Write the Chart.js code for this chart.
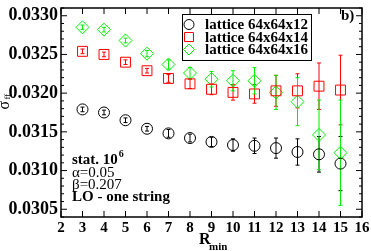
<!DOCTYPE html>
<html>
<head>
<meta charset="utf-8">
<script src="https://cdn.jsdelivr.net/npm/chart.js@4/dist/chart.umd.min.js"></script>
<style>
  html, body { margin: 0; padding: 0; background: #fff; }
  canvas { display: block; }
</style>
</head>
<body>
<canvas id="chart" width="371" height="251"></canvas>
<script>
// R_min values and sigma_ff for the three lattices
const rmin = [3, 4, 5, 6, 7, 8, 9, 10, 11, 12, 13, 14, 15];

const sig12 = [0.03179, 0.03175, 0.03165, 0.03154, 0.03148, 0.03142, 0.03137, 0.03133, 0.03132, 0.03129, 0.03124, 0.03121, 0.03109];
const err12 = [0.00003, 0.00003, 0.00003, 0.00003, 0.00005, 0.00005, 0.00006, 0.00008, 0.00010, 0.00013, 0.00017, 0.00023, 0.00035];

const sig14 = [0.03254, 0.03250, 0.03240, 0.03229, 0.03219, 0.03212, 0.03205, 0.03201, 0.03199, 0.03203, 0.03203, 0.03209, 0.03204];
const err14 = [0.00003, 0.00003, 0.00003, 0.00003, 0.00005, 0.00006, 0.00007, 0.00010, 0.00012, 0.00020, 0.00022, 0.00030, 0.00045];

const sig16 = [0.03285, 0.03282, 0.03268, 0.03251, 0.03237, 0.03226, 0.03218, 0.03216, 0.03216, 0.03201, 0.03189, 0.03146, 0.03123];
const err16 = [0.00003, 0.00003, 0.00003, 0.00004, 0.00006, 0.00007, 0.00010, 0.00013, 0.00017, 0.00022, 0.00031, 0.00045, 0.00068];

const seriesNames = ['lattice 64x64x12', 'lattice 64x64x14', 'lattice 64x64x16'];
const xTicks = [2, 3, 4, 5, 6, 7, 8, 9, 10, 11, 12, 13, 14, 15, 16];
const yTicks = [0.0305, 0.0310, 0.0315, 0.0320, 0.0325, 0.0330];
const notes = ['stat. 10', 'α=0.05', 'β=0.207', 'LO - one string'];

const SERIF = '"Liberation Serif", "DejaVu Serif", serif';
const colors = ['#000000', '#ff0000', '#00ee00'];
const styles = ['circle', 'rect', 'rectRot'];
const radii = [5.5, 7, 6.5];
const errs = [err12, err14, err16];

function makeSet(i, vals) {
    return {
        label: seriesNames[i],
        data: rmin.map((x, k) => ({ x: x, y: vals[k] })),
        showLine: false,
        pointStyle: styles[i],
        pointRadius: radii[i],
        pointHoverRadius: radii[i],
        borderColor: colors[i],
        backgroundColor: 'rgba(0,0,0,0)',
        borderWidth: 1
    };
}

const decor = {
    id: 'decor',
    beforeDatasetsDraw(chart) {
        const ctx = chart.ctx;
        const xs = chart.scales.x, ys = chart.scales.y;
        ctx.save();
        chart.data.datasets.forEach((ds, i) => {
            ctx.strokeStyle = colors[i];
            ctx.lineWidth = 1;
            ds.data.forEach((p, k) => {
                const px = xs.getPixelForValue(p.x);
                const top = ys.getPixelForValue(p.y + errs[i][k]);
                const bot = ys.getPixelForValue(p.y - errs[i][k]);
                ctx.beginPath();
                ctx.moveTo(px, top); ctx.lineTo(px, bot);
                ctx.moveTo(px - 2, top); ctx.lineTo(px + 2, top);
                ctx.moveTo(px - 2, bot); ctx.lineTo(px + 2, bot);
                ctx.stroke();
            });
        });
        ctx.restore();
    },
    afterDraw(chart) {
        const ctx = chart.ctx;
        const a = chart.chartArea;
        const xs = chart.scales.x, ys = chart.scales.y;
        ctx.save();

        // frame
        ctx.strokeStyle = '#000';
        ctx.lineWidth = 1.5;
        ctx.strokeRect(a.left, a.top, a.right - a.left, a.bottom - a.top);

        // inward ticks on all sides
        ctx.lineWidth = 1;
        ctx.beginPath();
        xTicks.forEach(v => {
            const px = xs.getPixelForValue(v);
            ctx.moveTo(px, a.bottom); ctx.lineTo(px, a.bottom - 6);
            ctx.moveTo(px, a.top); ctx.lineTo(px, a.top + 6);
        });
        for (let v = 0.0304; v <= 0.03311; v += 0.0001) {
            const py = ys.getPixelForValue(v);
            const major = Math.abs(Math.round(v * 2000) - v * 2000) < 1e-6;
            const len = major ? 6 : 3;
            ctx.moveTo(a.left, py); ctx.lineTo(a.left + len, py);
            ctx.moveTo(a.right, py); ctx.lineTo(a.right - len, py);
        }
        ctx.stroke();

        // legend
        ctx.fillStyle = '#fff';
        ctx.fillRect(182, 14, 129, 46);
        ctx.strokeStyle = '#000';
        ctx.lineWidth = 1;
        ctx.strokeRect(182.5, 14.5, 129, 46);
        seriesNames.forEach((name, i) => {
            const y = 24.5 + i * 12.5;
            ctx.strokeStyle = colors[i];
            ctx.beginPath();
            if (i === 0) {
                ctx.arc(189, y, 5, 0, Math.PI * 2);
            } else if (i === 1) {
                ctx.rect(184.5, y - 4.5, 9, 9);
            } else {
                ctx.moveTo(189, y - 5.5); ctx.lineTo(194.5, y);
                ctx.lineTo(189, y + 5.5); ctx.lineTo(183.5, y);
                ctx.closePath();
            }
            ctx.stroke();
            ctx.fillStyle = '#000';
            ctx.font = 'bold 15px ' + SERIF;
            ctx.textBaseline = 'middle';
            ctx.textAlign = 'left';
            ctx.fillText(name, 205, y + 1);
        });

        // panel tag
        ctx.fillStyle = '#000';
        ctx.textBaseline = 'alphabetic';
        ctx.font = 'bold 15px ' + SERIF;
        ctx.fillText('b)', 341, 20);

        // notes
        ctx.font = 'bold 15px ' + SERIF;
        ctx.fillText(notes[0], 72, 164);
        const w0 = ctx.measureText(notes[0]).width;
        ctx.font = 'bold 10px ' + SERIF;
        ctx.fillText('6', 72 + w0 + 1, 157);
        ctx.font = '15px ' + SERIF;
        ctx.fillText(notes[1], 72, 177);
        ctx.fillText(notes[2], 72, 189);
        ctx.font = 'bold 15px ' + SERIF;
        ctx.fillText(notes[3], 72, 201);

        // x title
        ctx.font = 'bold 16px ' + SERIF;
        ctx.fillText('R', 199, 244);
        ctx.font = 'bold 11px ' + SERIF;
        ctx.fillText('min', 209, 250);

        // y title
        ctx.translate(8.5, 109.5);
        ctx.rotate(-Math.PI / 2);
        ctx.font = '16px ' + SERIF;
        ctx.fillText('σ', 0, 0);
        ctx.font = '9px ' + SERIF;
        ctx.fillText('ff', 10, 1);
        ctx.restore();
    }
};

const ctx = document.getElementById('chart').getContext('2d');
new Chart(ctx, {
    type: 'scatter',
    data: {
        datasets: [makeSet(0, sig12), makeSet(1, sig14), makeSet(2, sig16)]
    },
    options: {
        responsive: false,
        animation: false,
        devicePixelRatio: 1,
        layout: { padding: { top: 1, right: 9, left: 0, bottom: 0 } },
        plugins: { legend: { display: false }, tooltip: { enabled: false } },
        scales: {
            x: {
                type: 'linear',
                min: 2,
                max: 16,
                grid: { display: false, drawTicks: false },
                border: { display: false },
                ticks: {
                    color: '#000',
                    padding: 2,
                    maxRotation: 0,
                    font: { family: SERIF, size: 15, weight: 'bold' }
                },
                afterBuildTicks: s => { s.ticks = xTicks.map(v => ({ value: v })); },
                afterFit: s => { s.height = 34; s.paddingLeft = 0; s.paddingRight = 0; }
            },
            y: {
                type: 'linear',
                min: 0.0304,
                max: 0.0331,
                grid: { display: false, drawTicks: false },
                border: { display: false },
                ticks: {
                    color: '#000',
                    padding: 3,
                    font: { family: SERIF, size: 18, weight: 'bold' },
                    callback: v => v.toFixed(4)
                },
                afterBuildTicks: s => { s.ticks = yTicks.map(v => ({ value: v })); },
                afterFit: s => { s.width = 61; s.paddingTop = 0; s.paddingBottom = 0; }
            }
        }
    },
    plugins: [decor]
});
</script>
</body>
</html>
